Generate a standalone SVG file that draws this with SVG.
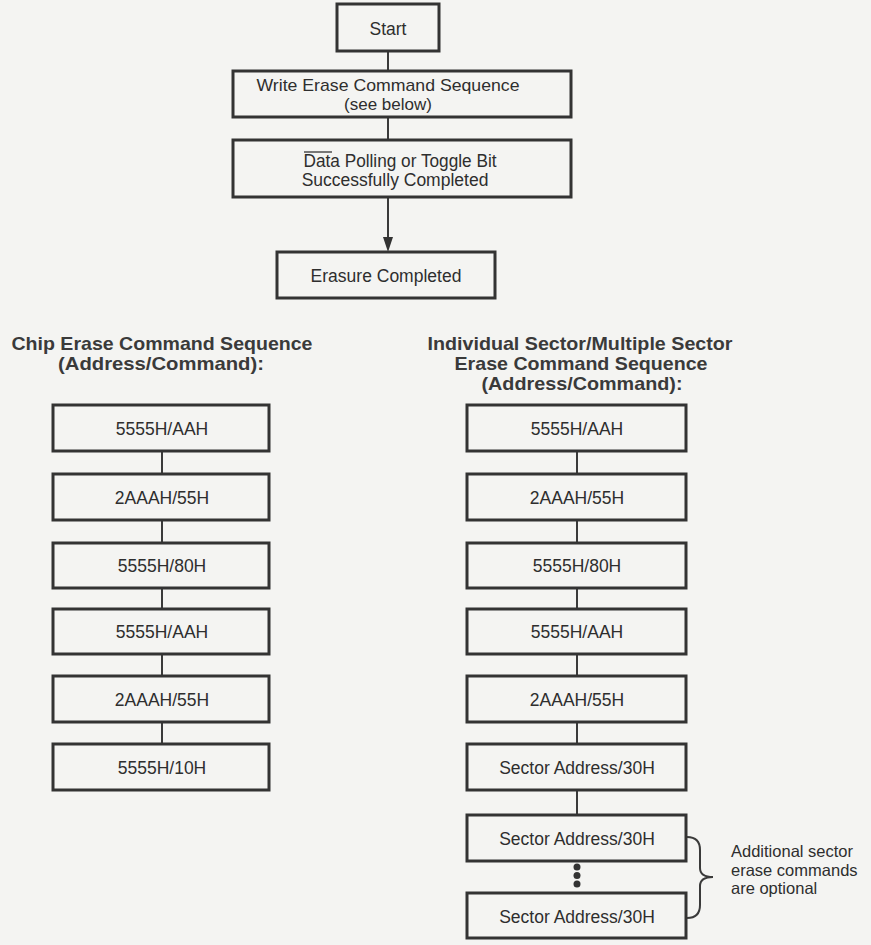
<svg xmlns="http://www.w3.org/2000/svg" width="871" height="945" viewBox="0 0 871 945">
<defs>
<style>
.box{fill:none;stroke:#333;stroke-width:3}
.ln{stroke:#3a3a3a;stroke-width:2;fill:none}
.t{font-family:"Liberation Sans",Arial,sans-serif;font-size:17.5px;fill:#2e2e2e;text-anchor:middle}
.t2{font-size:17px}
.h{font-family:"Liberation Sans",Arial,sans-serif;font-size:18.5px;font-weight:bold;fill:#3a3a3a;text-anchor:middle}
.n{font-family:"Liberation Sans",Arial,sans-serif;font-size:16.5px;fill:#2e2e2e}
</style>
</defs>
<rect width="871" height="945" fill="#f4f4f2"/>

<g id="connectors">
<line class="ln" x1="388" y1="51" x2="388" y2="71"/>
<line class="ln" x1="388" y1="117" x2="388" y2="140"/>
<line class="ln" x1="388" y1="198" x2="388" y2="237"/>
<path d="M383,237 L393,237 L388,252 Z" fill="#333"/>
<line class="ln" x1="162" y1="451" x2="162" y2="474"/>
<line class="ln" x1="162" y1="520" x2="162" y2="543"/>
<line class="ln" x1="162" y1="588" x2="162" y2="609"/>
<line class="ln" x1="162" y1="654" x2="162" y2="676"/>
<line class="ln" x1="162" y1="722" x2="162" y2="744"/>
<line class="ln" x1="577" y1="451" x2="577" y2="474"/>
<line class="ln" x1="577" y1="520" x2="577" y2="543"/>
<line class="ln" x1="577" y1="588" x2="577" y2="609"/>
<line class="ln" x1="577" y1="654" x2="577" y2="676"/>
<line class="ln" x1="577" y1="722" x2="577" y2="744"/>
<line class="ln" x1="577" y1="790" x2="577" y2="815"/>
</g>

<g id="start"><rect class="box" x="337" y="4" width="102" height="47"/><text class="t" x="388" y="35">Start</text></g>
<g id="write-erase"><rect class="box" x="233" y="71" width="338" height="46"/><text class="t t2" x="388" y="90.5" textLength="263" lengthAdjust="spacingAndGlyphs">Write Erase Command Sequence</text><text class="t t2" x="388" y="110">(see below)</text></g>
<g id="data-polling"><rect class="box" x="233" y="140" width="338" height="57"/><line x1="304" y1="152" x2="332" y2="152" stroke="#333" stroke-width="1.3"/><text class="t" x="400" y="167" textLength="193" lengthAdjust="spacingAndGlyphs">Data Polling or Toggle Bit</text><text class="t" x="395" y="186">Successfully Completed</text></g>
<g id="erasure-completed"><rect class="box" x="277" y="252" width="218" height="46"/><text class="t" x="386" y="282">Erasure Completed</text></g>

<g id="heading-chip"><text class="h" x="162" y="350" textLength="301" lengthAdjust="spacingAndGlyphs">Chip Erase Command Sequence</text><text class="h" x="161" y="370" textLength="206" lengthAdjust="spacingAndGlyphs">(Address/Command):</text></g>
<g id="heading-sector"><text class="h" x="580" y="350" textLength="305" lengthAdjust="spacingAndGlyphs">Individual Sector/Multiple Sector</text><text class="h" x="581" y="370" textLength="253" lengthAdjust="spacingAndGlyphs">Erase Command Sequence</text><text class="h" x="582" y="390" textLength="201" lengthAdjust="spacingAndGlyphs">(Address/Command):</text></g>

<g id="c1"><rect class="box" x="53" y="405" width="216" height="46"/><text class="t" x="162" y="435">5555H/AAH</text></g>
<g id="c2"><rect class="box" x="53" y="474" width="216" height="46"/><text class="t" x="162" y="504">2AAAH/55H</text></g>
<g id="c3"><rect class="box" x="53" y="543" width="216" height="45"/><text class="t" x="162" y="572">5555H/80H</text></g>
<g id="c4"><rect class="box" x="53" y="609" width="216" height="45"/><text class="t" x="162" y="638">5555H/AAH</text></g>
<g id="c5"><rect class="box" x="53" y="676" width="216" height="46"/><text class="t" x="162" y="706">2AAAH/55H</text></g>
<g id="c6"><rect class="box" x="53" y="744" width="216" height="46"/><text class="t" x="162" y="774">5555H/10H</text></g>

<g id="s1"><rect class="box" x="467" y="405" width="219" height="46"/><text class="t" x="577" y="435">5555H/AAH</text></g>
<g id="s2"><rect class="box" x="467" y="474" width="219" height="46"/><text class="t" x="577" y="504">2AAAH/55H</text></g>
<g id="s3"><rect class="box" x="467" y="543" width="219" height="45"/><text class="t" x="577" y="572">5555H/80H</text></g>
<g id="s4"><rect class="box" x="467" y="609" width="219" height="45"/><text class="t" x="577" y="638">5555H/AAH</text></g>
<g id="s5"><rect class="box" x="467" y="676" width="219" height="46"/><text class="t" x="577" y="706">2AAAH/55H</text></g>
<g id="s6"><rect class="box" x="467" y="744" width="219" height="46"/><text class="t" x="577" y="774">Sector Address/30H</text></g>
<g id="s7"><rect class="box" x="467" y="815" width="219" height="46"/><text class="t" x="577" y="845">Sector Address/30H</text></g>
<g id="dots" fill="#333"><circle cx="577" cy="867" r="3.5"/><circle cx="577" cy="875.5" r="3.5"/><circle cx="577" cy="884" r="3.5"/></g>
<g id="s8"><rect class="box" x="467" y="893" width="219" height="45"/><text class="t" x="577" y="923">Sector Address/30H</text></g>

<g id="note"><path class="ln" d="M687,837 Q700,837 700,850 L700,868 Q700,877 713,877 Q700,877 700,886 L700,905 Q700,918 687,918"/><text class="n" x="731" y="857">Additional sector</text><text class="n" x="731" y="876">erase commands</text><text class="n" x="731" y="894">are optional</text></g>
</svg>
